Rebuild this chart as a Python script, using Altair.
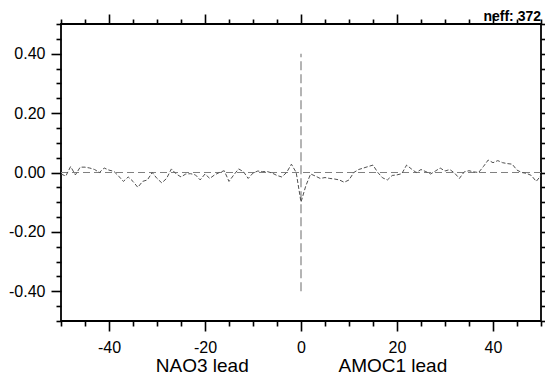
import altair as alt
import pandas as pd

# ---- data ----
lags = list(range(-50, 51))
corr = [
    -0.005, -0.012, 0.020, -0.008, 0.018, 0.018, 0.015, 0.010, 0.000, 0.015,   # -50..-41
    0.008, 0.004, -0.012, -0.030, -0.015, -0.030, -0.050, -0.030, -0.025, 0.000,  # -40..-31
    -0.020, -0.035, -0.020, 0.012, -0.005, -0.015, -0.005, -0.004, -0.008, -0.025,  # -30..-21
    -0.005, -0.020, -0.008, 0.000, 0.006, -0.030, -0.008, 0.012, 0.003, -0.020,  # -20..-11
    -0.002, 0.005, 0.003, 0.003, -0.002, -0.010, -0.015, 0.000, 0.028, 0.000,  # -10..-1
    -0.100,  # 0
    -0.045, -0.005, -0.012, -0.020, -0.017, -0.020, -0.022, -0.025, -0.033, -0.025,  # 1..10
    0.000, 0.010, 0.015, 0.020, 0.025, 0.000, -0.018, -0.025, -0.010, -0.008,  # 11..20
    -0.004, 0.025, 0.012, 0.000, 0.010, 0.003, -0.005, 0.005, 0.015, 0.005,  # 21..30
    0.010, -0.002, -0.020, 0.002, 0.006, 0.002, 0.000, 0.020, 0.042, 0.033,  # 31..40
    0.040, 0.033, 0.030, 0.028, 0.008, 0.000, -0.003, -0.010, -0.030, -0.010,  # 41..50
]
zero_x = [-50, 50]
zero_y = [0.0, 0.0]
vline_x = [0]
vline_y = [-0.4]
vline_y2 = [0.4]
x_ticks = [-50, -45, -40, -35, -30, -25, -20, -15, -10, -5, 0,
           5, 10, 15, 20, 25, 30, 35, 40, 45, 50]
y_ticks = [-0.5, -0.45, -0.4, -0.35, -0.3, -0.25, -0.2, -0.15, -0.1, -0.05, 0.0,
           0.05, 0.1, 0.15, 0.2, 0.25, 0.3, 0.35, 0.4, 0.45, 0.5]
x_title_left = "NAO3 lead"
x_title_right = "AMOC1 lead"
neff_label = ["neff: 372"]

FONT = "Liberation Sans"
NB = "\u00a0"

df = pd.DataFrame({"lag": lags, "r": corr})
zero_df = pd.DataFrame({"lag": zero_x, "r": zero_y})
vdf = pd.DataFrame({"lag": vline_x, "y": vline_y, "y2": vline_y2})
tdf = pd.DataFrame({"t": neff_label})

xscale = alt.Scale(domain=[-50, 50], nice=False, zero=False)
yscale = alt.Scale(domain=[-0.5, 0.5], nice=False, zero=False)

x_major = "abs(datum.value) % 20 === 0"
y_major = "abs(round(datum.value * 100)) % 20 === 0"
MAJ, MIN = 10, 5

common = dict(domain=False, grid=False, tickColor="black", tickWidth=1.6)

x_bottom = alt.Axis(
    orient="bottom", values=x_ticks,
    tickSize={"condition": {"test": x_major, "value": MAJ}, "value": MIN},
    labelExpr=f"{x_major} ? ((datum.value < 0 ? '-' : '') + abs(datum.value)) : ''",
    labelFont=FONT, labelFontSize=16, labelColor="black", labelPadding=8,
    labelOverlap=False, labelFlush=False,
    title=x_title_left + NB * 17 + x_title_right,
    titleFont=FONT, titleFontSize=19, titleFontWeight="normal", titleColor="black",
    titlePadding=1, **common)
y_left = alt.Axis(
    orient="left", values=y_ticks,
    tickSize={"condition": {"test": y_major, "value": MAJ}, "value": MIN},
    labelExpr=f"{y_major} ? ((datum.value < -0.001 ? '-' : '') + format(abs(datum.value), '.2f')) : ''",
    labelFont=FONT, labelFontSize=16, labelColor="black", labelPadding=6,
    labelOverlap=False, labelFlush=False, title=None, **common)
x_top = alt.Axis(
    orient="top", values=x_ticks,
    tickSize={"condition": {"test": x_major, "value": MAJ}, "value": MIN},
    labels=False, title=None, **common)
y_right = alt.Axis(
    orient="right", values=y_ticks,
    tickSize={"condition": {"test": y_major, "value": MAJ}, "value": MIN},
    labels=False, title=None, **common)

zero = alt.Chart(zero_df).mark_line(
    color="#808080", strokeWidth=1, strokeDash=[7, 4]
).encode(
    x=alt.X("lag:Q", scale=xscale, axis=x_top),
    y=alt.Y("r:Q", scale=yscale, axis=y_right),
)

vline = alt.Chart(vdf).mark_rule(
    color="#b4b4b4", strokeWidth=2, strokeDash=[9, 4]
).encode(
    x=alt.X("lag:Q", scale=xscale, axis=None),
    y=alt.Y("y:Q", scale=yscale, axis=None),
    y2="y2:Q",
)

line = alt.Chart(df).mark_line(
    color="#505050", strokeWidth=1, strokeDash=[4, 2]
).encode(
    x=alt.X("lag:Q", scale=xscale, axis=x_bottom),
    y=alt.Y("r:Q", scale=yscale, axis=y_left),
)

neff = alt.Chart(tdf).mark_text(
    align="right", baseline="alphabetic", font=FONT, fontSize=14,
    fontWeight="bold", color="black"
).encode(
    text="t:N", x=alt.value(480), y=alt.value(-3)
)

chart = alt.layer(zero, vline, line, neff).resolve_axis(
    x="independent", y="independent"
).properties(
    width=480, height=297,
    autosize=alt.AutoSizeParams(type="none"),
    padding={"left": 53, "top": 16, "right": 4, "bottom": 56},
).configure_view(
    stroke="black", strokeWidth=1.8
)

chart.save("out.html", embed_options={"renderer": "svg", "actions": False})
